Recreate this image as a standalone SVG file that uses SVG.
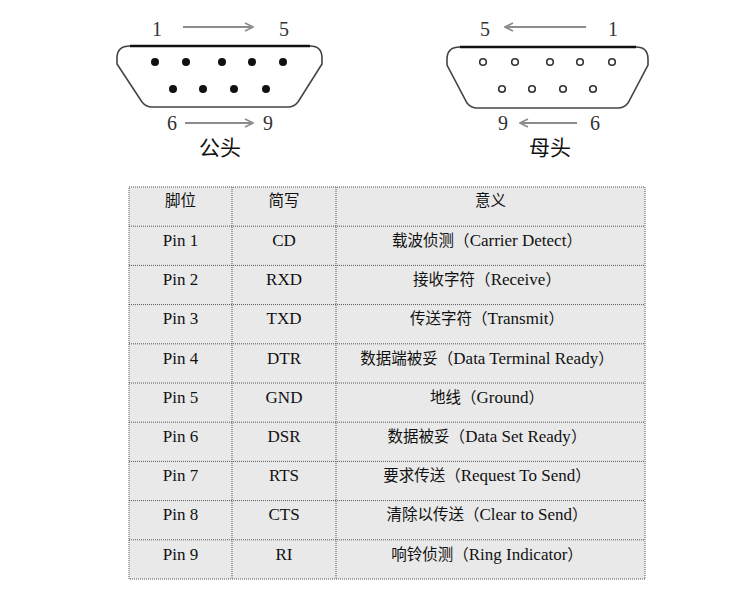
<svg xmlns="http://www.w3.org/2000/svg" width="750" height="600" viewBox="0 0 750 600">
<style>
.num{font-family:"Liberation Serif","Times New Roman",serif;font-size:20px;fill:#333;text-anchor:middle}
.cap{font-family:"Noto Sans CJK SC","Noto Sans",sans-serif;font-size:21px;fill:#111;text-anchor:middle}
.shell{fill:none;stroke:#444;stroke-width:1.6}
.topedge{stroke:#111;stroke-width:2.4}
.arrow{stroke:#8c8c8c;stroke-width:2;fill:none;marker-end:url(#ah)}
.pin{fill:#111}
.hole{fill:none;stroke:#333;stroke-width:1.6}
.cell{fill:#e9e9e9}
.grid{stroke:#555;stroke-width:1;stroke-dasharray:1 1;fill:none}
.t{font-family:"Liberation Serif","Noto Sans CJK SC",serif;font-size:17px;fill:#111;text-anchor:middle}
.c{font-family:"Noto Sans CJK SC",sans-serif;font-size:15.5px}
</style>
<defs>
<marker id="ah" viewBox="0 0 10 10" refX="9" refY="5" markerWidth="5" markerHeight="5" orient="auto" markerUnits="strokeWidth">
<path d="M1,1 L9,5 L1,9" fill="none" stroke="#8c8c8c" stroke-width="1.6"/>
</marker>
</defs>
<rect width="750" height="600" fill="#fff"/>

<g id="male">
<path class="shell" d="M130,46 L310,46 Q322,46 322,58 L322,64 L298,102 Q294,107 288,107 L152,107 Q146,107 142,102 L117,64 L117,58 Q117,46 130,46 Z"/>
<line class="topedge" x1="130" y1="46" x2="310" y2="46"/>
<circle class="pin" cx="155" cy="62" r="4"/>
<circle class="pin" cx="186" cy="62" r="4"/>
<circle class="pin" cx="222" cy="62" r="4"/>
<circle class="pin" cx="252" cy="62" r="4"/>
<circle class="pin" cx="283" cy="62" r="4"/>
<circle class="pin" cx="173" cy="89" r="4"/>
<circle class="pin" cx="203" cy="89" r="4"/>
<circle class="pin" cx="234" cy="89" r="4"/>
<circle class="pin" cx="266" cy="89" r="4"/>
<text class="num" x="157" y="36">1</text>
<text class="num" x="284" y="36">5</text>
<text class="num" x="172" y="130">6</text>
<text class="num" x="268" y="130">9</text>
<text class="cap" x="220" y="155">公头</text>
</g>

<g id="female">
<path class="shell" d="M460,47 L636,47 Q648,47 648,59 L648,65 L628,103 Q624,108 618,108 L477,108 Q471,108 467,103 L447,65 L447,59 Q447,47 460,47 Z"/>
<line class="topedge" x1="460" y1="47" x2="636" y2="47"/>
<circle class="hole" cx="483" cy="62" r="3.3"/>
<circle class="hole" cx="515" cy="62" r="3.3"/>
<circle class="hole" cx="550" cy="62" r="3.3"/>
<circle class="hole" cx="580" cy="62" r="3.3"/>
<circle class="hole" cx="612" cy="62" r="3.3"/>
<circle class="hole" cx="502" cy="89" r="3.3"/>
<circle class="hole" cx="532" cy="89" r="3.3"/>
<circle class="hole" cx="563" cy="89" r="3.3"/>
<circle class="hole" cx="593" cy="89" r="3.3"/>
<text class="num" x="485" y="36">5</text>
<text class="num" x="613" y="36">1</text>
<text class="num" x="503" y="130">9</text>
<text class="num" x="595" y="130">6</text>
<text class="cap" x="550" y="155">母头</text>
</g>

<g id="connectors">
<line class="arrow" x1="183" y1="27" x2="253" y2="27"/>
<line class="arrow" x1="185" y1="123" x2="253" y2="123"/>
<line class="arrow" x1="586" y1="27" x2="505" y2="27"/>
<line class="arrow" x1="577" y1="123" x2="520" y2="123"/>
</g>

<g id="table">
<rect class="cell" x="129" y="187" width="516" height="392"/>
<g class="grid">
<rect x="129" y="187" width="516" height="392"/>
<line x1="232" y1="187" x2="232" y2="579"/>
<line x1="336" y1="187" x2="336" y2="579"/>
<line x1="129" y1="226.2" x2="645" y2="226.2"/>
<line x1="129" y1="265.4" x2="645" y2="265.4"/>
<line x1="129" y1="304.6" x2="645" y2="304.6"/>
<line x1="129" y1="343.8" x2="645" y2="343.8"/>
<line x1="129" y1="383" x2="645" y2="383"/>
<line x1="129" y1="422.2" x2="645" y2="422.2"/>
<line x1="129" y1="461.4" x2="645" y2="461.4"/>
<line x1="129" y1="500.6" x2="645" y2="500.6"/>
<line x1="129" y1="539.8" x2="645" y2="539.8"/>
</g>
<text class="t c" x="180.5" y="206">脚位</text>
<text class="t c" x="284" y="206">简写</text>
<text class="t c" x="490.5" y="206">意义</text>

<text class="t" x="180.5" y="246">Pin 1</text>
<text class="t" x="284" y="246">CD</text>
<text class="t" x="487" y="246"><tspan class="c">载波侦测（</tspan>Carrier Detect<tspan class="c">）</tspan></text>

<text class="t" x="180.5" y="285.2">Pin 2</text>
<text class="t" x="284" y="285.2">RXD</text>
<text class="t" x="487" y="285.2"><tspan class="c">接收字符（</tspan>Receive<tspan class="c">）</tspan></text>

<text class="t" x="180.5" y="324.4">Pin 3</text>
<text class="t" x="284" y="324.4">TXD</text>
<text class="t" x="487" y="324.4"><tspan class="c">传送字符（</tspan>Transmit<tspan class="c">）</tspan></text>

<text class="t" x="180.5" y="363.6">Pin 4</text>
<text class="t" x="284" y="363.6">DTR</text>
<text class="t" x="487" y="363.6"><tspan class="c">数据端被妥（</tspan>Data Terminal Ready<tspan class="c">）</tspan></text>

<text class="t" x="180.5" y="402.8">Pin 5</text>
<text class="t" x="284" y="402.8">GND</text>
<text class="t" x="487" y="402.8"><tspan class="c">地线（</tspan>Ground<tspan class="c">）</tspan></text>

<text class="t" x="180.5" y="442">Pin 6</text>
<text class="t" x="284" y="442">DSR</text>
<text class="t" x="487" y="442"><tspan class="c">数据被妥（</tspan>Data Set Ready<tspan class="c">）</tspan></text>

<text class="t" x="180.5" y="481.2">Pin 7</text>
<text class="t" x="284" y="481.2">RTS</text>
<text class="t" x="487" y="481.2"><tspan class="c">要求传送（</tspan>Request To Send<tspan class="c">）</tspan></text>

<text class="t" x="180.5" y="520.4">Pin 8</text>
<text class="t" x="284" y="520.4">CTS</text>
<text class="t" x="487" y="520.4"><tspan class="c">清除以传送（</tspan>Clear to Send<tspan class="c">）</tspan></text>

<text class="t" x="180.5" y="559.6">Pin 9</text>
<text class="t" x="284" y="559.6">RI</text>
<text class="t" x="487" y="559.6"><tspan class="c">响铃侦测（</tspan>Ring Indicator<tspan class="c">）</tspan></text>
</g>
</svg>
